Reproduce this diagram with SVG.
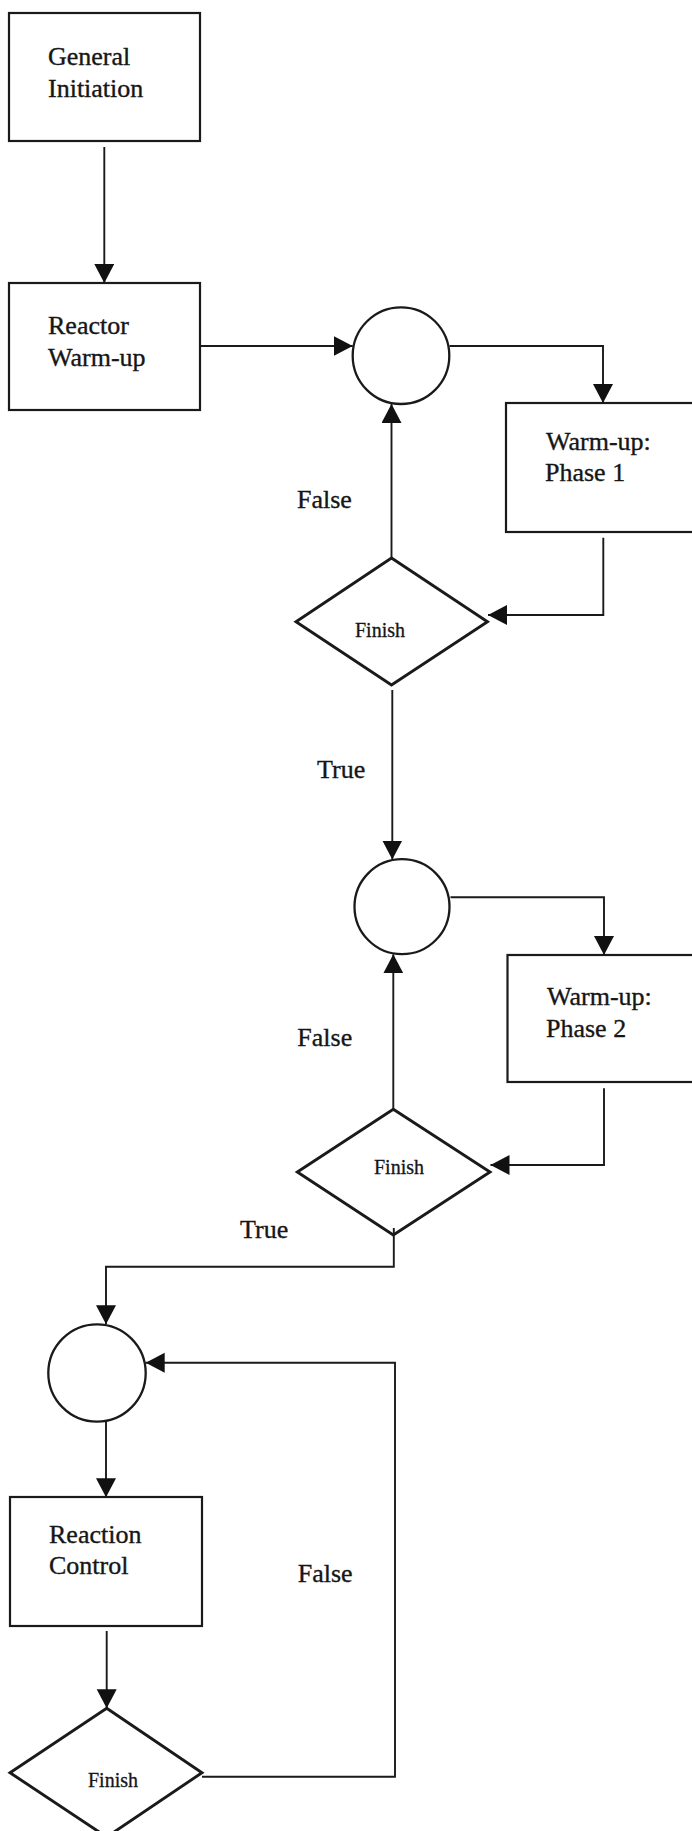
<svg xmlns="http://www.w3.org/2000/svg" width="692" height="1831" viewBox="0 0 692 1831">
  <style>
    .box { fill: #fff; stroke: #1a1a1a; stroke-width: 2.2; }
    .joint { fill: #fff; stroke: #1a1a1a; stroke-width: 2.3; }
    .decision { fill: #fff; stroke: #1a1a1a; stroke-width: 2.9; stroke-linejoin: miter; }
    .label { font-family: "Liberation Serif", "Times New Roman", serif; font-size: 26px; fill: #161616; stroke: #161616; stroke-width: 0.35; }
    .small { font-family: "Liberation Serif", "Times New Roman", serif; font-size: 20px; fill: #161616; stroke: #161616; stroke-width: 0.3; }
    .edge { fill: none; stroke: #1a1a1a; stroke-width: 1.9; marker-end: url(#arrow); }
  </style>
  <defs>
    <marker id="arrow" markerUnits="userSpaceOnUse" markerWidth="20" markerHeight="21" refX="19" refY="10" orient="auto">
      <path d="M0,0 L19,10 L0,20 Z" fill="#111"/>
    </marker>
  </defs>

  <rect width="692" height="1831" fill="#fff"/>

  <!-- process boxes -->
  <g id="general-initiation">
    <rect class="box" x="9" y="13" width="191" height="128"/>
    <text class="label" x="48" y="65">General</text>
    <text class="label" x="48" y="97">Initiation</text>
  </g>
  <g id="reactor-warmup">
    <rect class="box" x="9" y="283" width="191" height="127"/>
    <text class="label" x="48" y="334">Reactor</text>
    <text class="label" x="48" y="366">Warm-up</text>
  </g>
  <g id="warmup-phase1">
    <rect class="box" x="506" y="403" width="220" height="129"/>
    <text class="label" x="546" y="450">Warm-up:</text>
    <text class="label" x="545" y="481">Phase 1</text>
  </g>
  <g id="warmup-phase2">
    <rect class="box" x="507.5" y="955" width="220" height="127"/>
    <text class="label" x="547" y="1005">Warm-up:</text>
    <text class="label" x="546" y="1037">Phase 2</text>
  </g>
  <g id="reaction-control">
    <rect class="box" x="10" y="1497" width="192" height="129"/>
    <text class="label" x="49" y="1543">Reaction</text>
    <text class="label" x="49" y="1574">Control</text>
  </g>

  <!-- junction circles -->
  <g id="junction1">
    <circle class="joint" cx="401" cy="355.7" r="48.3"/>
  </g>
  <g id="junction2">
    <circle class="joint" cx="402" cy="906.7" r="47.5"/>
  </g>
  <g id="junction3">
    <circle class="joint" cx="97" cy="1373" r="48.7"/>
  </g>

  <!-- decisions -->
  <g id="finish1">
    <polygon class="decision" points="391.5,558 487.5,621.7 391.5,685 296,621.7"/>
    <text class="small" x="355" y="637">Finish</text>
  </g>
  <g id="finish2">
    <polygon class="decision" points="393.3,1109.3 490,1172 393.3,1235 297.3,1172"/>
    <text class="small" x="374" y="1174">Finish</text>
  </g>
  <g id="finish3">
    <polygon class="decision" points="106.7,1708.3 202,1772.7 106.7,1837 10,1772.7"/>
    <text class="small" x="88" y="1787">Finish</text>
  </g>

  <!-- connectors -->
  <g id="connectors">
    <path class="edge" d="M104.3,147 V283"/>
    <path class="edge" d="M200.7,346 H352.7"/>
    <path class="edge" d="M449.5,346 H603 V403"/>
    <path class="edge" d="M603.3,537.7 V615 H488"/>
    <path class="edge" d="M391.5,558 V404"/>
    <path class="edge" d="M392.3,690 V859.5"/>
    <path class="edge" d="M450.5,897.3 H604 V955"/>
    <path class="edge" d="M604,1088.3 V1165 H490.5"/>
    <path class="edge" d="M393.3,1109.3 V954.3"/>
    <path class="edge" d="M393.8,1228 V1266.7 H106 V1324.3"/>
    <path class="edge" d="M106,1421.7 V1497.3"/>
    <path class="edge" d="M106.7,1631 V1708.3"/>
    <path class="edge" d="M202,1776.7 H395 V1362.7 H145.7"/>
  </g>

  <!-- branch labels -->
  <g id="branch-labels">
    <text class="label" x="297" y="508">False</text>
    <text class="label" x="317" y="777.5">True</text>
    <text class="label" x="297.3" y="1045.7">False</text>
    <text class="label" x="240" y="1238.3">True</text>
    <text class="label" x="297.7" y="1582.3">False</text>
  </g>
</svg>
